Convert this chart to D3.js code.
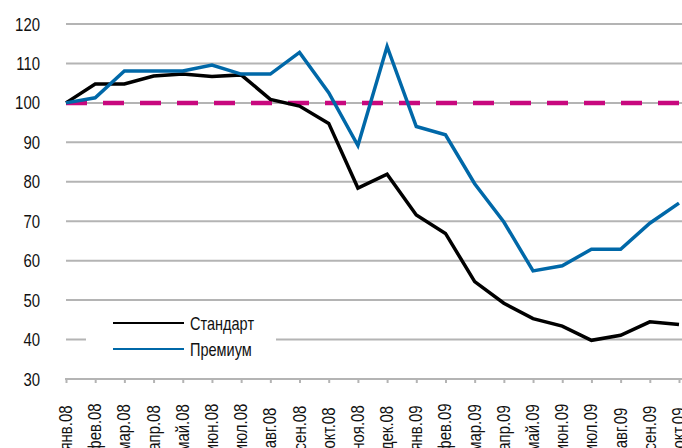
<!DOCTYPE html>
<meta charset="utf-8">
<style>
    body { margin: 0; background: #fff; }
    .container { width: 682px; height: 448px; }
    text { font-family: "Liberation Sans", Arial, sans-serif; fill: #111; }
</style>
<body>
<div class="container"></div>
<script src="https://cdn.jsdelivr.net/npm/d3@7"></script>
<script>

// months, Jan 2008 .. Oct 2009
const months = ['янв.08', 'фев.08', 'мар.08', 'апр.08', 'май.08', 'июн.08', 'июл.08', 'авг.08', 'сен.08', 'окт.08', 'ноя.08', 'дек.08',
                'янв.09', 'фев.09', 'мар.09', 'апр.09', 'май.09', 'июн.09', 'июл.09', 'авг.09', 'сен.09', 'окт.09'];

const standard = [100, 104.8, 104.8, 106.8, 107.3, 106.7, 107.1, 100.9, 99.2, 94.8, 78.4, 81.9,
                  71.6, 66.9, 54.7, 49.2, 45.3, 43.4, 39.8, 41.1, 44.5, 43.8];

const premium = [100, 101.3, 108.1, 108.1, 108.1, 109.6, 107.3, 107.3, 112.8, 102.6, 89.2, 114.3,
                 94, 91.9, 79.5, 69.8, 57.4, 58.7, 62.9, 62.9, 69.5, 74.6];

const yTicks = [30, 40, 50, 60, 70, 80, 90, 100, 110, 120];
const baseline = 100;

const width = 682, height = 448;
const narrow = 0.83; // condensed look of the original font

const svg = d3.select('.container').append('svg')
    .attr('width', width).attr('height', height);

const x = d3.scalePoint().domain(months).range([66, 679]);
const y = d3.scaleLinear().domain([30, 120]).range([379, 24]);

// grid
svg.append('g').selectAll('line.grid')
    .data(yTicks.filter(d => d > 30))
    .enter().append('line')
    .attr('class', 'grid')
    .attr('x1', 66).attr('x2', 682)
    .attr('y1', d => y(d)).attr('y2', d => y(d))
    .style('stroke', '#b4b4b4').style('stroke-width', 2);

// y labels
svg.append('g').selectAll('text.ylab')
    .data(yTicks)
    .enter().append('text')
    .attr('class', 'ylab')
    .attr('transform', d => `translate(40,${y(d) + 6.5}) scale(${narrow},1)`)
    .attr('text-anchor', 'end')
    .style('font-size', '18px')
    .text(d => d);

// x axis
const xAxis = svg.append('g')
    .attr('transform', `translate(0,${y(30)})`)
    .call(d3.axisBottom(x).tickSize(4).tickSizeOuter(0).tickFormat(''));
xAxis.select('.domain').attr('d', 'M65,0H682').style('stroke', '#b4b4b4').style('stroke-width', 2);
xAxis.selectAll('.tick line').style('stroke', '#b4b4b4').style('stroke-width', 2);

svg.append('g').selectAll('text.xlab')
    .data(months)
    .enter().append('text')
    .attr('class', 'xlab')
    .attr('transform', d => `translate(${x(d) + 6},428) rotate(-90) scale(${narrow},1)`)
    .attr('text-anchor', 'middle')
    .style('font-size', '18px')
    .text(d => d);

// 100 reference
svg.append('line')
    .attr('x1', 66).attr('x2', 682)
    .attr('y1', y(baseline)).attr('y2', y(baseline))
    .style('stroke', '#c8087e').style('stroke-width', 4.5)
    .style('stroke-dasharray', '21,16');

const line = d3.line().x((d, i) => x(months[i])).y(d => y(d));

svg.append('path').datum(standard)
    .attr('d', line)
    .style('fill', 'none').style('stroke', '#000').style('stroke-width', 3.5)
    .style('stroke-linejoin', 'miter');

svg.append('path').datum(premium)
    .attr('d', line)
    .style('fill', 'none').style('stroke', '#0068a8').style('stroke-width', 3.5)
    .style('stroke-linejoin', 'miter');

// legend
const legend = svg.append('g');
legend.append('rect')
    .attr('x', 86).attr('y', 310).attr('width', 190).attr('height', 56)
    .style('fill', '#fff');
const items = [['Стандарт', '#000'], ['Премиум', '#0068a8']];
items.forEach((it, i) => {
    const ly = 323 + i * 26;
    legend.append('line')
        .attr('x1', 113).attr('x2', 184).attr('y1', ly).attr('y2', ly)
        .style('stroke', it[1]).style('stroke-width', 2);
    legend.append('text')
        .attr('transform', `translate(190,${ly + 6.5}) scale(${narrow},1)`)
        .style('font-size', '17.5px')
        .text(it[0]);
});

</script>
</body>
